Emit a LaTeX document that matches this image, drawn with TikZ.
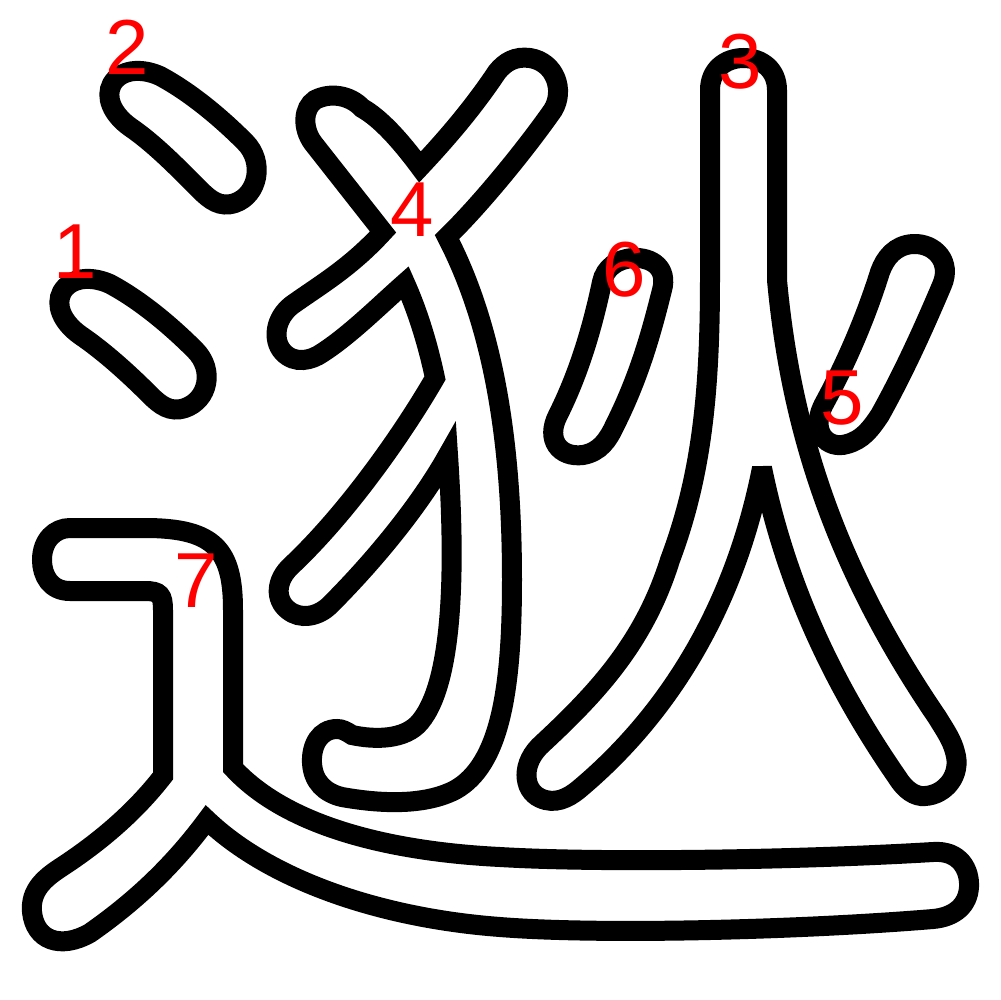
\documentclass[tikz,border=0pt]{standalone}
\usepackage{fontspec}
\setmainfont{Liberation Sans}
\begin{document}
\begin{tikzpicture}[x=0.1mm,y=-0.1mm,
  outline/.style={draw=black, line width=2mm, line join=miter, miter limit=4},
  num/.style={text=red, font=\fontsize{22.2pt}{24pt}\selectfont, inner sep=0pt}]
\fill[white] (0,0) rectangle (1000,1000);
\useasboundingbox (0,0) rectangle (1000,1000);
% stroke 1
\draw[outline] (80,335) .. controls (62,322) and (55,305) .. (62,292)
  .. controls (70,278) and (90,275) .. (110,284)
  .. controls (140,300) and (170,325) .. (195,350)
  .. controls (215,370) and (208,400) .. (185,408)
  .. controls (170,413) and (160,405) .. (150,395)
  .. controls (130,375) and (105,352) .. (80,335) -- cycle;
% stroke 2
\draw[outline] (130,127) .. controls (112,114) and (105,97) .. (112,84)
  .. controls (120,70) and (140,67) .. (160,76)
  .. controls (190,92) and (220,117) .. (245,142)
  .. controls (265,162) and (258,195) .. (235,203)
  .. controls (220,208) and (210,200) .. (200,190)
  .. controls (180,170) and (155,144) .. (130,127) -- cycle;
% stroke 3
\draw[outline] (710,90) -- (710,280)
  .. controls (710,400) and (700,480) .. (670,560)
  .. controls (645,640) and (600,690) .. (543,743)
  .. controls (520,763) and (523,790) .. (540,798)
  .. controls (555,805) and (568,798) .. (578,790)
  .. controls (650,730) and (730,630) .. (762,468)
  .. controls (785,580) and (830,680) .. (897,777)
  .. controls (905,790) and (915,797) .. (925,796)
  .. controls (945,795) and (962,775) .. (955,752)
  .. controls (952,740) and (945,730) .. (937,717)
  .. controls (830,560) and (790,420) .. (777,280)
  -- (777,90)
  .. controls (777,70) and (762,58) .. (743.5,58)
  .. controls (725,58) and (710,70) .. (710,90) -- cycle;
% stroke 4
\draw[outline] (313,143) -- (383,232)
  .. controls (350,268) and (320,285) .. (292,305)
  .. controls (275,318) and (272,340) .. (283,352)
  .. controls (295,365) and (312,360) .. (322,353)
  .. controls (350,335) and (380,305) .. (405,283)
  .. controls (418,312) and (428,345) .. (435,378)
  .. controls (405,430) and (350,510) .. (292,565)
  .. controls (275,580) and (275,600) .. (288,610)
  .. controls (300,620) and (318,617) .. (330,605)
  .. controls (375,560) and (420,505) .. (448,455)
  .. controls (455,560) and (455,680) .. (420,722)
  .. controls (405,740) and (375,740) .. (352,735)
  .. controls (346,731) and (342,729) .. (337,729)
  .. controls (320,729) and (311,745) .. (312,763)
  .. controls (313,782) and (325,793) .. (342,797)
  .. controls (370,802) and (420,808) .. (455,790)
  .. controls (500,765) and (512,690) .. (512,580)
  .. controls (512,430) and (490,320) .. (447,237)
  .. controls (480,205) and (525,150) .. (553,110)
  .. controls (565,90) and (555,62) .. (530,58)
  .. controls (515,56) and (505,62) .. (497,72)
  .. controls (475,105) and (450,135) .. (420,167)
  .. controls (400,140) and (380,118) .. (362,108)
  .. controls (350,95) and (330,92) .. (315,100)
  .. controls (303,108) and (302,128) .. (313,143) -- cycle;
% stroke 5
\draw[outline] (880,272) .. controls (865,320) and (845,365) .. (825,402)
  .. controls (808,432) and (828,450) .. (847,444)
  .. controls (862,440) and (870,430) .. (880,415)
  .. controls (905,370) and (925,325) .. (942,285)
  .. controls (952,262) and (935,243) .. (913,244)
  .. controls (895,245) and (885,258) .. (880,272) -- cycle;
% stroke 6
\draw[outline] (602,282) .. controls (592,330) and (578,375) .. (558,415)
  .. controls (545,440) and (560,458) .. (583,455)
  .. controls (600,452) and (608,440) .. (615,425)
  .. controls (640,375) and (652,330) .. (662,290)
  .. controls (668,268) and (652,257) .. (633,258)
  .. controls (617,259) and (605,268) .. (602,282) -- cycle;
% stroke 7
\draw[outline] (70,528) -- (145,528)
  .. controls (215,528) and (233,550) .. (233,610) -- (233,768)
  .. controls (290,830) and (400,852) .. (500,857)
  .. controls (600,863) and (800,860) .. (933,852)
  .. controls (960,850) and (970,870) .. (969,887)
  .. controls (968,905) and (955,917) .. (933,919)
  .. controls (800,930) and (600,935) .. (500,927)
  .. controls (380,918) and (270,880) .. (207,820)
  .. controls (170,870) and (130,905) .. (90,933)
  .. controls (60,950) and (35,940) .. (32,912)
  .. controls (30,890) and (45,878) .. (60,868)
  .. controls (100,842) and (135,812) .. (163,776) -- (163,610)
  .. controls (163,595) and (160,591) .. (145,591) -- (70,591)
  .. controls (50,591) and (42,575) .. (42,560)
  .. controls (42,540) and (55,528) .. (70,528) -- cycle;
% labels
\node[num] (n1) at (75,252) {1};
\node[num] (n2) at (127,47) {2};
\node[num] (n3) at (740,62) {3};
\node[num] (n4) at (412,210) {4};
\node[num] (n5) at (842,398) {5};
\node[num] (n6) at (624,270) {6};
\node[num] (n7) at (196,581) {7};
\end{tikzpicture}
\end{document}
